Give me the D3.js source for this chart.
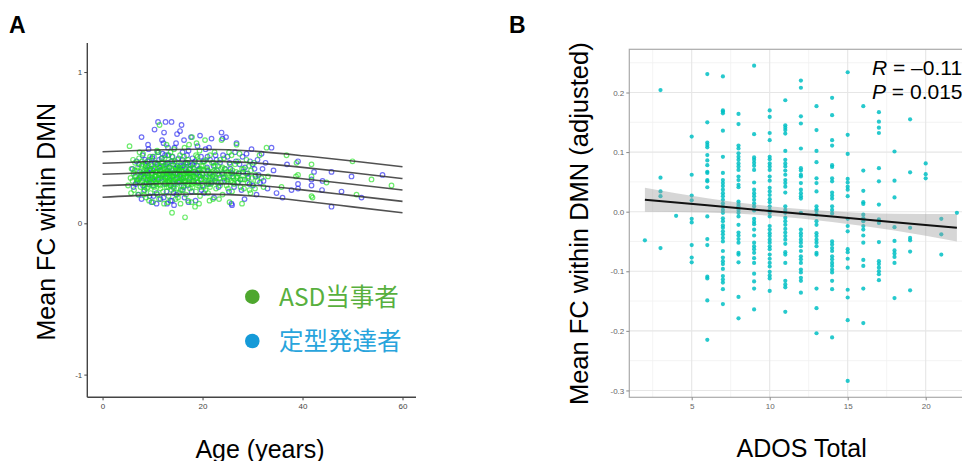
<!DOCTYPE html>
<html>
<head>
<meta charset="utf-8">
<script src="https://cdn.jsdelivr.net/npm/d3@7"></script>
<style>
  body { margin: 0; background: #fff; }
  svg { display: block; font-family: "Liberation Sans", Arial, sans-serif; }
</style>
</head>
<body>
<div id="chart"></div>
<script>
////// DATA
// Panel A: age vs mean FC, two groups
var asdPoints = [
  [5.1,.25],[5.4,.51],[5.6,.30],[5.8,.36],[6.0,.28],[6.2,.33],[6.3,.22],[6.5,.40],[6.7,.31],[6.9,.27],
  [7.0,.35],[7.1,.19],[7.3,.43],[7.4,.30],[7.6,.24],[7.8,.38],[7.9,.33],[8.0,.28],[8.1,.46],[8.2,.21],
  [8.3,.35],[8.4,.31],[8.5,.26],[8.6,.40],[8.7,.17],[8.8,.33],[8.9,.29],[9.0,.37],[9.1,.24],[9.2,.31],
  [9.3,.42],[9.4,.27],[9.5,.35],[9.6,.20],[9.7,.30],[9.8,.38],[9.9,.25],[10.0,.33],[10.1,.14],[10.2,.29],
  [10.3,.44],[10.4,.36],[10.5,.22],[10.6,.31],[10.7,.27],[10.8,.39],[10.9,.34],[11.0,.19],[11.1,.30],[11.2,.47],
  [11.3,.26],[11.4,.65],[11.5,.35],[11.6,.23],[11.7,.32],[11.8,.40],[11.9,.28],[12.0,.36],[12.1,.21],[12.2,.31],
  [12.3,.13],[12.4,.43],[12.5,.27],[12.6,.34],[12.7,.38],[12.8,.24],[12.9,.30],[13.0,.45],[13.1,.33],[13.2,.18],
  [13.3,.29],[13.4,.37],[13.5,.25],[13.6,.32],[13.7,.41],[13.8,.22],[13.9,.07],[14.0,.35],[14.1,.28],[14.2,.31],
  [14.3,.49],[14.4,.26],[14.5,.38],[14.6,.16],[14.7,.33],[14.8,.23],[14.9,.30],[15.0,.42],[15.1,.36],[15.2,.27],
  [15.3,.20],[15.4,.34],[15.5,.31],[15.6,.13],[15.7,.39],[15.8,.25],[15.9,.29],[16.0,.37],[16.1,.22],[16.2,.32],
  [16.3,.44],[16.4,.28],[16.5,.04],[16.6,.35],[16.7,.19],[16.8,.31],[16.9,.40],[17.0,.26],[17.2,.34],[17.3,.52],
  [17.4,.29],[17.5,.23],[17.6,.36],[17.8,.14],[17.9,.57],[18.0,.31],[18.2,.27],[18.3,.39],[18.5,.11],[18.6,.33],
  [18.7,.21],[18.9,.30],[19.0,.44],[19.1,.25],[19.3,.35],[19.5,.18],[19.6,.29],[19.8,.38],[20.0,.32],[20.2,.24],
  [20.4,.41],[20.5,.55],[20.7,.28],[20.9,.36],[21.1,.20],[21.3,.31],[21.5,.45],[21.7,.26],[21.9,.34],[22.1,.16],
  [22.3,.30],[22.5,.38],[22.7,.23],[23.0,.33],[23.2,.27],[23.5,.42],[23.8,.55],[24.0,.19],[24.2,.31],[24.5,.36],
  [24.8,.25],[25.0,.29],[25.3,.47],[25.6,.34],[25.9,.21],[26.2,.30],[26.5,.39],[26.8,.52],[27.0,.27],[27.3,.33],
  [27.6,.24],[27.9,.13],[28.2,.36],[28.5,.29],[28.8,.42],[29.1,.31],[29.4,.22],[29.7,.35],[30.0,.26],[30.3,.40],
  [30.6,.32],[31.0,.28],[31.4,.45],[31.8,.30],[32.2,.24],[32.8,.50],[33.1,.31],
  [7.2,.29],[7.7,.32],[8.2,.34],[8.6,.29],[9.0,.32],[9.4,.35],[9.8,.31],[10.2,.36],[10.6,.34],[11.0,.29],
  [11.4,.33],[11.8,.35],[12.2,.29],[12.6,.31],[13.0,.28],[13.4,.33],[13.8,.36],[14.2,.27],[14.6,.30],[15.0,.33],
  [15.4,.28],[15.8,.35],[16.2,.30],[16.6,.27],[17.0,.33],[17.4,.31],[17.8,.28],[18.2,.34],[18.6,.30],[19.0,.27],
  [19.4,.32],[19.8,.29],[20.3,.35],[20.8,.31],[21.2,.27],[21.6,.33],[22.0,.29],[22.6,.34],[23.4,.30],[24.4,.28],
  [25.2,.33],[26.0,.27],[27.0,.31],[28.0,.29],[8.4,.24],[9.2,.38],[10.8,.26],[12.0,.40],[13.2,.24],[14.4,.41],
  [15.6,.22],[16.8,.39],[18.0,.24],[19.2,.41],[20.6,.22],[22.2,.40],[24.0,.37],[26.0,.35],[29.0,.27],
  [6.4,.35],[6.8,.29],[7.1,.37],[7.5,.27],[7.9,.41],[8.3,.19],[8.7,.36],[9.1,.28],[9.5,.44],[9.9,.33],
  [10.3,.24],[10.7,.40],[11.1,.36],[11.5,.25],[11.9,.43],[12.3,.33],[12.7,.26],[13.1,.39],[13.5,.30],[13.9,.44],
  [14.3,.23],[14.7,.37],[15.1,.30],[15.5,.45],[15.9,.34],[16.3,.25],[16.7,.33],[17.1,.42],[17.5,.36],[17.9,.26],
  [18.3,.31],[18.7,.45],[19.1,.35],[19.5,.24],[19.9,.33],[20.3,.29],[20.7,.42],[21.1,.35],[21.5,.24],[21.9,.40],
  [22.3,.35],[22.7,.30],[23.1,.38],[23.5,.25],[23.9,.33],[24.3,.43],[24.7,.30],[25.1,.23],[25.5,.39],[25.9,.31],
  [26.3,.26],[26.7,.34],[27.1,.41],[27.5,.29],[27.9,.36],[28.3,.23],[28.7,.33],[29.3,.38],[29.9,.30],[30.5,.23],
  [8.0,.39],[8.9,.23],[9.7,.27],[10.4,.29],[11.2,.32],[11.6,.38],[12.4,.36],[12.9,.34],[13.3,.27],[13.7,.29],
  [14.1,.33],[14.9,.35],[15.3,.37],[16.1,.28],[16.5,.33],[17.3,.27],[17.7,.32],[18.1,.37],[18.9,.27],[19.7,.36],
  [20.1,.38],[20.9,.26],[21.7,.30],[22.9,.27],[23.7,.36],[24.9,.34],[25.7,.28],[26.9,.30],[6.1,.42],[5.7,.20],
  [9.3,.15],[11.3,.16],[13.1,.14],[15.1,.17],[17.1,.15],[19.3,.13],[21.4,.15],[23.3,.16],[25.4,.14],[10.9,.48],
  [13.6,.47],[16.4,.50],[19.4,.48],[22.4,.47],[25.8,.45],[7.4,.47],[12.8,.52],[18.8,.53],[27.4,.46],[29.6,.20],
  [35.8,.24],[36.8,.45],[38.7,.31],[38.8,.40],[39.1,.32],[41.8,.39],[41.8,.31],[41.8,.18],[42.0,.17],[44.8,.27],
  [50.0,.41],[50.8,.19],[53.8,.29],[57.8,.25]
];
var tdPoints = [
  [6.0,.36],[6.2,.24],[6.5,.31],[6.8,.41],[7.0,.28],[7.2,.19],[7.5,.34],[7.8,.57],[7.8,.16],[8.0,.45],
  [8.2,.30],[8.4,.22],[8.6,.38],[8.8,.27],[9.0,.33],[9.2,.49],[9.4,.18],[9.6,.36],[9.8,.14],[9.9,.43],
  [10.0,.30],[10.2,.25],[10.4,.62],[10.5,.40],[10.6,.34],[10.8,.20],[11.0,.47],[11.1,.67],[11.2,.29],[11.4,.37],
  [11.6,.16],[11.8,.43],[12.0,.32],[12.2,.53],[12.3,.60],[12.4,.26],[12.6,.67],[12.7,.39],[12.8,.21],[13.0,.35],
  [13.2,.45],[13.4,.28],[13.6,.15],[13.8,.67],[13.9,.41],[14.0,.31],[14.2,.24],[14.3,.12],[14.4,.50],[14.6,.36],
  [14.8,.19],[14.9,.59],[15.0,.33],[15.2,.43],[15.4,.27],[15.5,.61],[15.6,.38],[15.8,.65],[15.9,.22],[16.0,.47],
  [16.2,.30],[16.4,.17],[16.6,.40],[16.8,.34],[17.0,.25],[17.2,.48],[17.4,.36],[17.7,.57],[17.8,.21],[18.0,.43],
  [18.3,.31],[18.6,.15],[18.9,.38],[19.2,.27],[19.5,.58],[19.7,.44],[20.0,.33],[20.3,.20],[20.6,.49],[20.9,.37],
  [21.2,.26],[21.5,.42],[21.8,.56],[22.0,.31],[22.3,.17],[22.6,.45],[22.9,.35],[23.2,.24],[23.5,.40],[23.8,.60],
  [24.0,.56],[24.3,.30],[24.7,.57],[25.0,.44],[25.3,.21],[25.6,.36],[25.8,.13],[25.9,.12],[26.1,.31],[26.5,.47],
  [26.8,.53],[27.1,.27],[27.4,.39],[27.8,.22],[28.1,.34],[28.4,.16],[28.8,.46],[29.1,.30],[29.5,.41],[29.8,.49],
  [30.1,.25],[30.4,.36],[30.8,.19],[31.2,.32],[31.8,.46],[32.2,.28],[32.6,.40],[33.0,.23],[33.8,.50],[34.2,.35],
  [8.5,.33],[9.5,.29],[10.5,.31],[11.5,.35],[12.5,.30],[13.5,.34],[14.5,.29],[15.5,.32],[16.5,.36],[17.5,.30],
  [18.5,.34],[19.5,.31],[21.0,.35],[22.5,.28],[24.0,.33],[11.0,.39],[13.0,.40],[15.0,.38],[17.0,.40],[9.0,.41],
  [10.0,.44],[12.0,.46],[14.0,.44],[16.0,.42],[18.0,.39],[10.2,.18],[12.2,.17],[14.2,.20],[16.2,.24],[20.0,.25],
  [6.6,.26],[7.3,.39],[7.7,.31],[8.1,.25],[8.5,.42],[8.9,.35],[9.3,.26],[9.7,.39],[10.1,.35],[10.7,.28],
  [11.3,.42],[11.7,.30],[12.1,.38],[12.5,.45],[12.9,.33],[13.3,.37],[13.7,.25],[14.1,.39],[14.5,.33],[14.9,.27],
  [15.3,.35],[15.7,.30],[16.1,.38],[16.5,.28],[16.9,.45],[17.3,.33],[17.7,.38],[18.1,.28],[18.5,.41],[18.9,.33],
  [19.3,.36],[19.8,.22],[20.2,.41],[20.6,.30],[21.0,.44],[21.4,.33],[21.8,.27],[22.2,.38],[22.8,.42],[23.3,.32],
  [23.7,.27],[24.1,.45],[24.5,.36],[24.9,.28],[25.4,.40],[25.9,.33],[26.3,.24],[26.7,.41],[27.2,.33],[27.6,.29],
  [28.0,.44],[28.5,.37],[29.0,.33],[29.4,.26],[30.0,.39],[30.6,.31],[31.0,.42],[31.5,.27],[32.0,.36],[9.1,.52],
  [11.9,.55],[13.1,.50],[14.7,.53],[16.3,.55],[19.0,.51],[21.3,.50],[10.8,.13],[13.9,.15],[17.2,.14],[12.9,.13],
  [34.8,.20],[36.0,.17],[36.9,.39],[37.8,.22],[39.1,.41],[39.1,.26],[39.1,.23],[41.8,.29],[41.8,.25],[42.3,.34],
  [44.0,.28],[43.9,.22],[45.8,.34],[45.8,.11],[47.8,.21],[49.8,.31],[51.8,.17],[56.0,.32]
];
// Panel A: normative percentile curves
var curveAges = [0, 10, 20, 30, 40, 50, 60];
var curveP95 = [0.473, 0.485, 0.490, 0.478, 0.447, 0.412, 0.374];
var curveP75 = [0.397, 0.409, 0.411, 0.400, 0.370, 0.334, 0.296];
var curveP50 = [0.324, 0.336, 0.338, 0.326, 0.295, 0.258, 0.220];
var curveP25 = [0.248, 0.261, 0.264, 0.252, 0.221, 0.183, 0.145];
var curveP05 = [0.172, 0.188, 0.193, 0.181, 0.148, 0.109, 0.070];
var ageTicks = [0, 20, 40, 60];
var fcTicksA = [1, 0, -1];
var legendLabels = ["ASD当事者", "定型発達者"];

// Panel B: ADOS total vs adjusted FC, one list of values per score
var adosScores = [2,3,4,5,6,7,8,9,10,11,12,13,14,15,16,17,18,19,20,21,22];
var adosValues = [
  [-0.048],
  [0.204,0.057,0.034,0.026,-0.061],
  [-0.007],
  [0.126,0.062,0.027,0.019,-0.012,-0.018,-0.056,-0.077,-0.085],
  [0.231,0.150,0.116,0.112,0.108,0.095,0.086,0.078,0.067,0.065,0.053,0.051,0.041,-0.008,-0.046,-0.056,-0.109,-0.112,-0.149,-0.215],
  [0.227,0.170,0.168,0.165,0.136,0.092,0.065,0.053,0.048,0.043,0.037,0.031,0.026,0.020,0.014,0.009,0.003,-0.002,-0.011,-0.016,
   -0.023,-0.027,-0.033,-0.038,-0.044,-0.050,-0.066,-0.077,-0.083,-0.088,-0.096,-0.108,-0.114,-0.119,-0.130,-0.155],
  [0.164,0.147,0.111,0.106,0.098,0.092,0.087,0.081,0.076,0.070,0.059,0.053,0.045,0.041,0.017,0.013,0.009,0.003,-0.002,-0.008,
   -0.022,-0.035,-0.040,-0.046,-0.052,-0.069,-0.072,-0.085,-0.143,-0.179],
  [0.245,0.130,0.091,0.087,0.082,0.077,0.070,0.049,0.037,0.031,0.026,0.020,0.014,0.009,0.002,-0.012,-0.017,-0.021,-0.030,-0.040,
   -0.052,-0.058,-0.063,-0.069,-0.078,-0.086,-0.104,-0.117,-0.129,-0.164],
  [0.170,0.159,0.132,0.120,0.092,0.088,0.081,0.076,0.070,0.059,0.052,0.040,0.034,0.028,0.021,0.016,0.009,0.003,-0.002,-0.008,
   -0.024,-0.030,-0.036,-0.041,-0.047,-0.052,-0.058,-0.063,-0.072,-0.079,-0.086,-0.092,-0.101,-0.107,-0.112,-0.133],
  [0.187,0.145,0.141,0.137,0.131,0.102,0.087,0.081,0.076,0.069,0.062,0.053,0.048,0.042,0.032,0.009,0.003,-0.002,-0.010,-0.016,
   -0.022,-0.029,-0.035,-0.041,-0.047,-0.054,-0.068,-0.072,-0.086,-0.116,-0.122,-0.127,-0.168],
  [0.220,0.208,0.160,0.148,0.106,0.073,0.069,0.062,0.059,0.048,0.037,0.031,0.026,0.022,-0.002,-0.030,-0.036,-0.041,-0.047,-0.052,
   -0.058,-0.066,-0.075,-0.080,-0.086,-0.097,-0.102,-0.111,-0.116,-0.136],
  [0.177,0.137,0.102,0.083,0.056,0.048,0.034,0.009,0.004,0.001,-0.005,-0.016,-0.022,-0.036,-0.041,-0.047,-0.052,-0.058,-0.069,-0.072,
   -0.129,-0.162,-0.204],
  [0.191,0.162,0.120,0.111,0.078,0.075,0.056,0.051,0.032,0.027,0.022,0.009,0.003,-0.003,-0.050,-0.055,-0.061,-0.066,-0.075,-0.080,
   -0.086,-0.091,-0.097,-0.102,-0.116,-0.130,-0.211],
  [0.234,0.129,0.097,0.055,0.049,0.042,0.037,0.026,-0.012,-0.024,-0.033,-0.063,-0.068,-0.079,-0.094,-0.131,-0.144,-0.182,-0.284],
  [0.177,0.069,0.035,0.016,0.013,-0.005,-0.011,-0.016,-0.024,-0.030,-0.040,-0.052,-0.081,-0.091,-0.129,-0.187],
  [0.167,0.151,0.141,0.132,0.073,0.051,0.012,-0.013,-0.019,-0.051,-0.083,-0.088,-0.094,-0.100,-0.105,-0.115],
  [0.101,0.052,0.024,-0.026,-0.049,-0.065,-0.070,-0.076,-0.086,-0.145],
  [0.155,0.066,-0.027,-0.044,-0.048,-0.067,-0.132],
  [0.081,0.063,0.056],
  [-0.012,-0.038,-0.072],
  [-0.002]
];
// Panel B: linear fit and its confidence band
var fitX = [2, 6, 10, 14, 18, 22];
var fitY = [0.020, 0.0106, 0.0012, -0.0082, -0.0176, -0.027];
var fitLower = [0.000, -0.0014, -0.0068, -0.0172, -0.0316, -0.050];
var fitUpper = [0.040, 0.0226, 0.0092, 0.0008, -0.0036, -0.004];
var adosTicks = [5, 10, 15, 20];
var adosMinor = [2.5, 7.5, 12.5, 17.5, 22.5];
var fcTicksB = [-0.3, -0.2, -0.1, 0.0, 0.1, 0.2];
var fcMinorB = [-0.25, -0.15, -0.05, 0.05, 0.15, 0.25];

////// SETUP SVG
var svg = d3.select("#chart").append("svg")
    .attr("width", 962)
    .attr("height", 461);

////// PANEL A
var xA = d3.scaleLinear().domain([-3.05, 62.7]).range([87.3, 416]);
var yA = d3.scaleLinear().domain([-1.15, 1.192]).range([397.3, 43]);

svg.append("text").attr("x", 9).attr("y", 33)
    .attr("font-size", 23).attr("font-weight", "bold").text("A");

// points: TD (blue) below, ASD (green) on top
svg.append("g").selectAll("circle").data(tdPoints).enter().append("circle")
    .attr("cx", d => xA(d[0])).attr("cy", d => yA(d[1])).attr("r", 2.3)
    .attr("fill", "none").attr("stroke", "#2222ee").attr("stroke-opacity", 0.65).attr("stroke-width", 1.2);
svg.append("g").selectAll("circle").data(asdPoints).enter().append("circle")
    .attr("cx", d => xA(d[0])).attr("cy", d => yA(d[1])).attr("r", 2.3)
    .attr("fill", "none").attr("stroke", "#1ee01e").attr("stroke-opacity", 0.65).attr("stroke-width", 1.2);

// percentile curves
var curveLine = d3.line().x(d => xA(d[0])).y(d => yA(d[1])).curve(d3.curveNatural);
[curveP95, curveP75, curveP50, curveP25, curveP05].forEach(function(vals) {
    svg.append("path")
        .attr("d", curveLine(curveAges.map((a, i) => [a, vals[i]])))
        .attr("fill", "none").attr("stroke", "#333").attr("stroke-opacity", 0.85).attr("stroke-width", 1.6);
});

// axes
var axA = svg.append("g").attr("transform", "translate(0,397.3)")
    .call(d3.axisBottom(xA).tickValues(ageTicks).tickSize(3).tickPadding(3).tickSizeOuter(0));
var ayA = svg.append("g").attr("transform", "translate(87.3,0)")
    .call(d3.axisLeft(yA).tickValues(fcTicksA).tickSize(3).tickPadding(2).tickSizeOuter(0)
        .tickFormat(d => String(d)));
[axA, ayA].forEach(function(g) {
    g.select(".domain").attr("stroke", "#444").attr("stroke-width", 1.4);
    g.selectAll(".tick line").attr("stroke", "#444");
    g.selectAll(".tick text").attr("fill", "#444").attr("font-size", 8)
        .attr("font-family", "Liberation Sans, Arial, sans-serif");
});
ayA.select(".domain").attr("d", "M0,43V397.3");
axA.select(".domain").attr("d", "M87.3,0H416");

svg.append("text").attr("transform", "translate(55,221.7) rotate(-90)")
    .attr("text-anchor", "middle").attr("font-size", 25).text("Mean FC within DMN");
svg.append("text").attr("x", 260).attr("y", 457.5)
    .attr("text-anchor", "middle").attr("font-size", 25).text("Age (years)");

// legend
var legendDot = ["#4ea72e", "#159ad8"];
var legendText = ["#58b03e", "#28a4dc"];
legendLabels.forEach(function(lab, i) {
    svg.append("circle").attr("cx", 252.3).attr("cy", 296.7 + i * 44.3).attr("r", 7.3)
        .attr("fill", legendDot[i]);
    svg.append("text").attr("x", 279).attr("y", 305.5 + i * 44.3)
        .attr("font-family", "Noto Sans CJK JP, sans-serif").attr("font-size", 24.5)
        .attr("fill", legendText[i]).text(lab);
});

////// PANEL B
var xB = d3.scaleLinear().domain([1, 23]).range([629.3, 972.5]);
var yB = d3.scaleLinear().domain([-0.3115, 0.2725]).range([397.3, 49.3]);

svg.append("text").attr("x", 509).attr("y", 33)
    .attr("font-size", 23).attr("font-weight", "bold").text("B");

var gB = svg.append("g");
// grid
gB.selectAll(".vminor").data(adosMinor).enter().append("line")
    .attr("x1", d => xB(d)).attr("x2", d => xB(d)).attr("y1", 49.3).attr("y2", 397.3)
    .attr("stroke", "#f0f0f0").attr("stroke-width", 0.8);
gB.selectAll(".hminor").data(fcMinorB).enter().append("line")
    .attr("y1", d => yB(d)).attr("y2", d => yB(d)).attr("x1", 629.3).attr("x2", 972.5)
    .attr("stroke", "#f0f0f0").attr("stroke-width", 0.8);
gB.selectAll(".vmajor").data(adosTicks).enter().append("line")
    .attr("x1", d => xB(d)).attr("x2", d => xB(d)).attr("y1", 49.3).attr("y2", 397.3)
    .attr("stroke", "#e6e6e6").attr("stroke-width", 1.1);
gB.selectAll(".hmajor").data(fcTicksB).enter().append("line")
    .attr("y1", d => yB(d)).attr("y2", d => yB(d)).attr("x1", 629.3).attr("x2", 972.5)
    .attr("stroke", "#e6e6e6").attr("stroke-width", 1.1);

// points
var adosPoints = [];
adosScores.forEach(function(s, i) {
    adosValues[i].forEach(function(v) { adosPoints.push([s, v]); });
});
gB.selectAll(".pt").data(adosPoints).enter().append("circle")
    .attr("cx", d => xB(d[0])).attr("cy", d => yB(d[1])).attr("r", 2.1)
    .attr("fill", "#00bfc4").attr("fill-opacity", 0.85);

// confidence band and fit line
var band = d3.area().x(d => xB(d[0])).y0(d => yB(d[1])).y1(d => yB(d[2])).curve(d3.curveMonotoneX);
gB.append("path").attr("d", band(fitX.map((x, i) => [x, fitLower[i], fitUpper[i]])))
    .attr("fill", "#999").attr("fill-opacity", 0.4);
gB.append("path").attr("d", d3.line().x(d => xB(d[0])).y(d => yB(d[1]))(fitX.map((x, i) => [x, fitY[i]])))
    .attr("fill", "none").attr("stroke", "#111").attr("stroke-width", 2);

// border
gB.append("rect").attr("x", 629.3).attr("y", 49.3).attr("width", 972.5 - 629.3).attr("height", 397.3 - 49.3)
    .attr("fill", "none").attr("stroke", "#aaa").attr("stroke-width", 1.2);

var axB = svg.append("g").attr("transform", "translate(0,397.3)")
    .call(d3.axisBottom(xB).tickValues(adosTicks).tickSize(3).tickPadding(3).tickSizeOuter(0));
var ayB = svg.append("g").attr("transform", "translate(629.3,0)")
    .call(d3.axisLeft(yB).tickValues(fcTicksB).tickSize(3).tickPadding(2).tickSizeOuter(0)
        .tickFormat(d => d3.format(".1f")(d).replace("−", "-")));
[axB, ayB].forEach(function(g) {
    g.select(".domain").remove();
    g.selectAll(".tick line").attr("stroke", "#888");
    g.selectAll(".tick text").attr("fill", "#666").attr("font-size", 8)
        .attr("font-family", "Liberation Sans, Arial, sans-serif");
});

svg.append("text").attr("transform", "translate(588,223.7) rotate(-90)")
    .attr("text-anchor", "middle").attr("font-size", 25.5).text("Mean FC within DMN (adjusted)");
svg.append("text").attr("x", 801.7).attr("y", 457)
    .attr("text-anchor", "middle").attr("font-size", 25).text("ADOS Total");

// annotation
var ann1 = svg.append("text").attr("x", 872).attr("y", 75).attr("font-size", 21);
ann1.append("tspan").attr("font-style", "italic").text("R");
ann1.append("tspan").text(" = \u20130.11");
var ann2 = svg.append("text").attr("x", 872).attr("y", 99).attr("font-size", 21);
ann2.append("tspan").attr("font-style", "italic").text("P");
ann2.append("tspan").text(" = 0.015");
</script>
</body>
</html>
